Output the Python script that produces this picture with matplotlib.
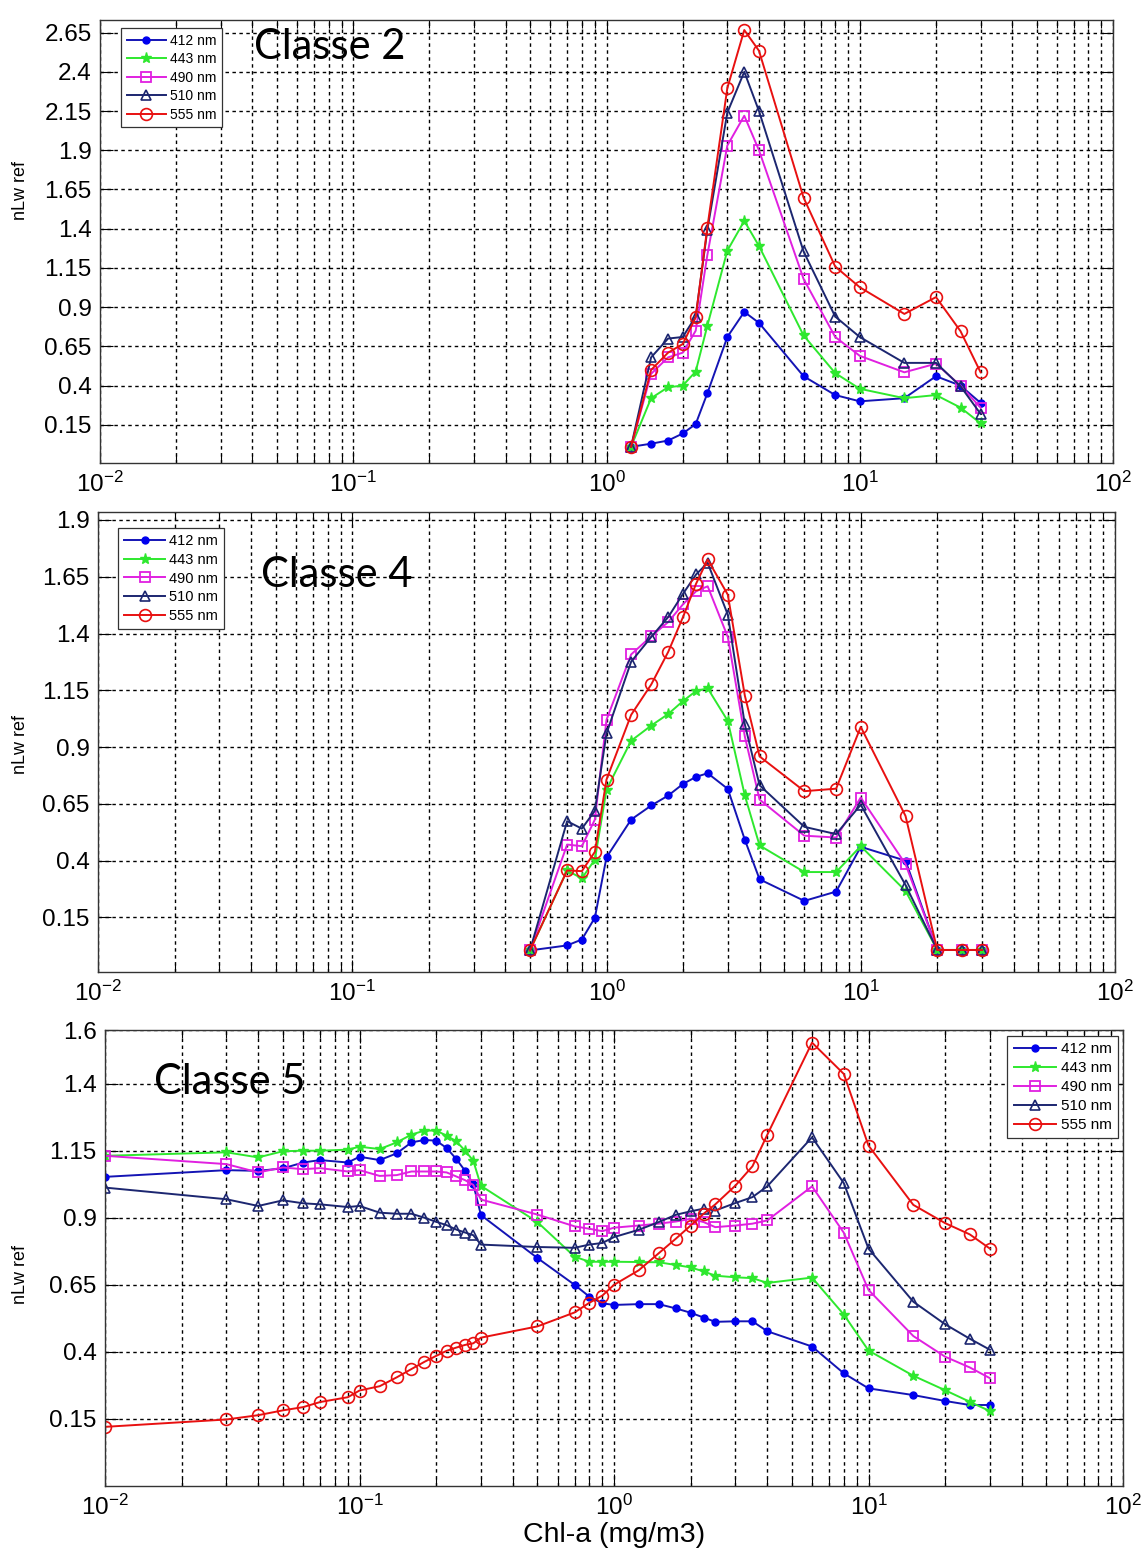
import matplotlib
matplotlib.use("Agg")
import matplotlib.pyplot as plt
from matplotlib.ticker import LogLocator, FixedLocator, NullFormatter, LogFormatterSciNotation

plt.rcParams['font.family'] = ['Liberation Sans', 'DejaVu Sans']
plt.rcParams['mathtext.fontset'] = 'custom'
plt.rcParams['mathtext.rm'] = 'Liberation Sans'
plt.rcParams['mathtext.it'] = 'Liberation Sans'
plt.rcParams['mathtext.default'] = 'regular'

labels = ['412 nm', '443 nm', '490 nm', '510 nm', '555 nm']

# ---- Classe 2 ----
x2 = [1.25, 1.5, 1.75, 2, 2.25, 2.5, 3, 3.5, 4, 6, 8, 10, 15, 20, 25, 30]
c2_412 = [0.01, 0.03, 0.05, 0.095, 0.155, 0.35, 0.71, 0.87, 0.80, 0.46, 0.34, 0.30, 0.32, 0.46, 0.40, 0.29]
c2_443 = [0.01, 0.32, 0.39, 0.40, 0.49, 0.78, 1.26, 1.45, 1.29, 0.72, 0.48, 0.38, 0.32, 0.34, 0.26, 0.16]
c2_490 = [0.01, 0.475, 0.58, 0.61, 0.75, 1.23, 1.93, 2.12, 1.90, 1.08, 0.71, 0.59, 0.485, 0.54, 0.40, 0.26]
c2_510 = [0.01, 0.58, 0.70, 0.71, 0.84, 1.39, 2.14, 2.40, 2.15, 1.255, 0.84, 0.71, 0.545, 0.545, 0.396, 0.22]
c2_555 = [0.01, 0.50, 0.61, 0.665, 0.835, 1.406, 2.296, 2.666, 2.534, 1.598, 1.159, 1.027, 0.857, 0.964, 0.747, 0.485]

# ---- Classe 4 ----
x4 = [0.5, 0.7, 0.8, 0.9, 1.0, 1.25, 1.5, 1.75, 2, 2.25, 2.5, 3, 3.5, 4, 6, 8, 10, 15, 20, 25, 30]
c4_412 = [0.005, 0.027, 0.053, 0.149, 0.415, 0.581, 0.643, 0.687, 0.738, 0.769, 0.785, 0.716, 0.492, 0.318, 0.223, 0.264, 0.461, 0.40, 0.007, 0.007, 0.007]
c4_443 = [0.005, 0.357, 0.322, 0.405, 0.713, 0.928, 0.995, 1.046, 1.103, 1.147, 1.159, 1.015, 0.687, 0.467, 0.35, 0.35, 0.464, 0.267, 0.007, 0.007, 0.007]
c4_490 = [0.005, 0.471, 0.464, 0.581, 1.02, 1.308, 1.388, 1.451, 1.529, 1.586, 1.608, 1.385, 0.947, 0.669, 0.51, 0.502, 0.678, 0.385, 0.007, 0.007, 0.007]
c4_510 = [0.005, 0.574, 0.541, 0.62, 0.96, 1.276, 1.385, 1.473, 1.575, 1.66, 1.711, 1.483, 1.0, 0.732, 0.549, 0.517, 0.646, 0.293, 0.007, 0.007, 0.007]
c4_555 = [0.005, 0.357, 0.354, 0.439, 0.757, 1.042, 1.176, 1.32, 1.473, 1.619, 1.726, 1.571, 1.127, 0.859, 0.706, 0.717, 0.989, 0.597, 0.007, 0.007, 0.007]

# ---- Classe 5 ----
x5 = [0.01, 0.03, 0.04, 0.05, 0.06, 0.07, 0.09, 0.1, 0.12, 0.14, 0.16, 0.18, 0.2, 0.22, 0.24, 0.26, 0.28, 0.3,
      0.5, 0.7, 0.8, 0.9, 1.0, 1.25, 1.5, 1.75, 2, 2.25, 2.5, 3, 3.5, 4, 6, 8, 10, 15, 20, 25, 30]
c5_412 = [1.0525, 1.0775, 1.075, 1.084, 1.106, 1.115, 1.106, 1.1275, 1.115, 1.14, 1.181, 1.19, 1.1875, 1.16, 1.119, 1.075, 1.025, 0.91,
          0.75, 0.65, 0.606, 0.581, 0.575, 0.578, 0.578, 0.562, 0.546, 0.528, 0.512, 0.514, 0.514, 0.477, 0.42, 0.32, 0.264, 0.239, 0.217, 0.202, 0.202]
c5_443 = [1.131, 1.144, 1.125, 1.148, 1.15, 1.15, 1.154, 1.165, 1.156, 1.181, 1.21, 1.225, 1.225, 1.206, 1.185, 1.15, 1.1125, 1.019,
          0.884, 0.755, 0.736, 0.736, 0.736, 0.735, 0.734, 0.724, 0.715, 0.70, 0.684, 0.678, 0.675, 0.657, 0.677, 0.539, 0.405, 0.311, 0.257, 0.214, 0.179]
c5_490 = [1.131, 1.1, 1.069, 1.0875, 1.081, 1.085, 1.0725, 1.0775, 1.056, 1.059, 1.0725, 1.0725, 1.0725, 1.069, 1.054, 1.04, 1.0225, 0.968,
          0.912, 0.868, 0.859, 0.85, 0.863, 0.871, 0.878, 0.886, 0.896, 0.884, 0.865, 0.871, 0.878, 0.89, 1.017, 0.844, 0.631, 0.459, 0.382, 0.342, 0.302]
c5_510 = [1.0125, 0.969, 0.944, 0.965, 0.954, 0.95, 0.94, 0.944, 0.919, 0.915, 0.915, 0.9, 0.885, 0.8725, 0.856, 0.845, 0.835, 0.80,
          0.791, 0.788, 0.80, 0.806, 0.828, 0.855, 0.884, 0.911, 0.924, 0.934, 0.927, 0.955, 0.977, 1.017, 1.2, 1.029, 0.785, 0.587, 0.503, 0.449, 0.408]
c5_555 = [0.1205, 0.148, 0.164, 0.182, 0.194, 0.213, 0.231, 0.256, 0.272, 0.305, 0.336, 0.363, 0.385, 0.404, 0.416, 0.426, 0.432, 0.453,
          0.495, 0.547, 0.583, 0.61, 0.65, 0.704, 0.768, 0.822, 0.871, 0.915, 0.95, 1.02, 1.092, 1.209, 1.553, 1.436, 1.169, 0.948, 0.88, 0.838, 0.785]

yt2 = [0.15, 0.4, 0.65, 0.9, 1.15, 1.4, 1.65, 1.9, 2.15, 2.4, 2.65]
yt4 = [0.15, 0.4, 0.65, 0.9, 1.15, 1.4, 1.65, 1.9]
yt5 = [0.15, 0.4, 0.65, 0.9, 1.15, 1.4, 1.6]

styles = [
    dict(color='#1414b4', marker='o', ms=5, mfc='#0000ee', mec='#0000ee', lw=1.4),
    dict(color='#2ee82e', marker='*', ms=8, mfc='#2ee82e', mec='#2ee82e', lw=1.4),
    dict(color='#e020e0', marker='s', ms=6.5, mfc='none', mec='#e020e0', lw=1.4, mew=1.3),
    dict(color='#1c2670', marker='^', ms=7.5, mfc='none', mec='#1c2670', lw=1.4, mew=1.2),
    dict(color='#e81010', marker='o', ms=8.5, mfc='none', mec='#e81010', lw=1.4, mew=1.2),
]

W, H = 1148, 1561
fig = plt.figure(figsize=(W / 100, H / 100), dpi=100)
GRID = dict(color='black', linestyle=(0, (2.5, 2.5)), linewidth=1.0)


def make_axes(l, t, r, b):
    return fig.add_axes([l / W, 1 - b / H, (r - l) / W, (b - t) / H])


def style_axes(ax, ylim, yticks, l, t, r, b, label_y):
    ax.set_xscale('log')
    ax.set_xlim(0.01, 100)
    ax.set_ylim(*ylim)
    ax.xaxis.set_major_locator(LogLocator(base=10, numticks=10))
    ax.xaxis.set_minor_locator(LogLocator(base=10, subs=range(2, 10), numticks=50))
    ax.xaxis.set_minor_formatter(NullFormatter())
    ax.xaxis.set_major_formatter(LogFormatterSciNotation())
    ax.yaxis.set_major_locator(FixedLocator(yticks))
    ax.set_yticklabels([f'{v:g}' for v in yticks])
    ax.tick_params(which='both', direction='in', top=True, right=True, labelsize=17.5, width=0.8)
    ax.tick_params(which='major', length=9, pad=6)
    ax.tick_params(which='minor', length=6)
    ax.grid(True, which='major', axis='both', **GRID)
    ax.grid(True, which='minor', axis='x', **GRID)
    ax.set_axisbelow(True)
    for s in ax.spines.values():
        s.set_color('#333333')
        s.set_linewidth(1.0)
    ax.set_ylabel('nLw ref', fontsize=13)
    ax.yaxis.set_label_coords((29 - l) / (r - l), 1 - (label_y - t) / (b - t))


def draw(ax, x, ys):
    for y, st, lab in zip(ys, styles, labels):
        ax.plot(x, y, label=lab, **st)


def legend(ax, fs, **kw):
    lg = ax.legend(borderaxespad=0, fontsize=fs, fancybox=False, edgecolor='#333333', framealpha=1,
                   handlelength=2.8, handletextpad=0.3, borderpad=0.4, labelspacing=0.33, **kw)
    lg.get_frame().set_linewidth(0.9)
    return lg


# Panel 1
P1 = (100, 20, 1113, 463)
ax1 = make_axes(*P1)
style_axes(ax1, (-0.093, 2.73), yt2, *P1, label_y=190)
draw(ax1, x2, [c2_412, c2_443, c2_490, c2_510, c2_555])
legend(ax1, 10, loc='upper left', bbox_to_anchor=(0.021, 0.982))
fig.text(330 / W, 1 - 47 / H, 'Classe 2', family='Lato', fontsize=30, ha='center', va='center')

# Panel 2
P2 = (98, 512, 1115, 972)
ax2 = make_axes(*P2)
style_axes(ax2, (-0.09, 1.935), yt4, *P2, label_y=745)
draw(ax2, x4, [c4_412, c4_443, c4_490, c4_510, c4_555])
legend(ax2, 10.5, loc='upper left', bbox_to_anchor=(0.02, 0.965))
fig.text(337 / W, 1 - 575 / H, 'Classe 4', family='Lato', fontsize=30, ha='center', va='center')

# Panel 3
P3 = (105, 1030, 1123, 1486)
ax3 = make_axes(*P3)
style_axes(ax3, (-0.1, 1.6), yt5, *P3, label_y=1275)
draw(ax3, x5, [c5_412, c5_443, c5_490, c5_510, c5_555])
legend(ax3, 11, loc='upper right', bbox_to_anchor=(0.995, 0.987))
fig.text(230 / W, 1 - 1082 / H, 'Classe 5', family='Lato', fontsize=30, ha='center', va='center')
ax3.set_xlabel('Chl-a (mg/m3)', fontsize=20.5, labelpad=2)

fig.savefig('out.png', dpi=100)
